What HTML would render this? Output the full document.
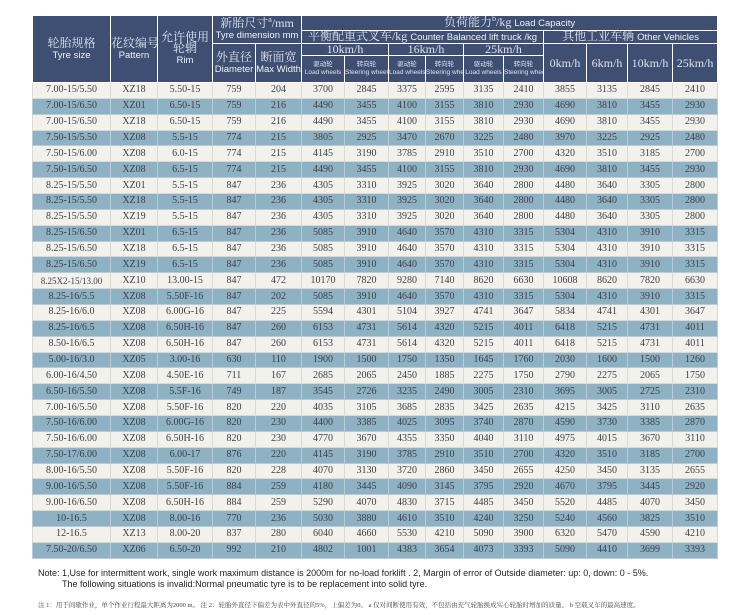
<!DOCTYPE html>
<html><head><meta charset="utf-8"><style>
body{margin:0;width:750px;height:615px;background:#fff;position:relative;overflow:hidden;font-family:"Liberation Serif","Noto Serif CJK SC",serif;}
table{position:absolute;left:32px;top:15px;border-collapse:collapse;table-layout:fixed;width:685px;}
td{padding:0;text-align:center;overflow:hidden;white-space:nowrap;border:1px solid rgba(255,255,255,.55);}
thead td{background:#3e4f73;color:#dfe3ec;font-size:12px;line-height:11px;}
thead .e{font-family:"Liberation Sans",sans-serif;font-size:9.5px;color:#f0f2f6;}
thead .s{font-size:6.5px;font-family:"Liberation Sans","Noto Sans CJK SC",sans-serif;line-height:8px;}
tbody td{height:14.87px;font-size:10px;line-height:10px;color:#3a3f44;}
tbody tr:nth-child(odd) td{background:#f3f1ec;border-color:#ddd9d0;}
tbody tr:nth-child(even) td{background:#8fb1c4;border-color:#b6cdd8;}
.n{position:absolute;left:75px;font-family:"Liberation Sans",sans-serif;font-size:9px;color:#222;}
.c{position:absolute;left:78px;top:600px;font-size:6.5px;color:#444;font-family:"Liberation Serif","Noto Serif CJK SC",serif;}
</style></head><body>
<table>
<colgroup><col style="width:78px"><col style="width:47px"><col style="width:55px"><col style="width:43px"><col style="width:46px"><col style="width:43px"><col style="width:44px"><col style="width:37px"><col style="width:38px"><col style="width:40px"><col style="width:40px"><col style="width:43px"><col style="width:41px"><col style="width:45px"><col style="width:45px"></colgroup>
<thead>
<tr style="height:15px"><td rowspan="4">轮胎规格<br><span class="e">Tyre size</span></td><td rowspan="4">花纹编号<br><span class="e">Pattern</span></td><td rowspan="4">允许使用<br>轮辋<br><span class="e">Rim</span></td><td colspan="2" rowspan="2">新胎尺寸<sup style="font-size:8px;line-height:0">a</sup>/mm<br><span class="e">Tyre dimension mm</span></td><td colspan="10">负荷能力<sup style="font-size:8px;line-height:0">b</sup>/kg <span class="e">Load Capacity</span></td></tr>
<tr style="height:13px"><td colspan="6">平衡配重式叉车/kg <span class="e">Counter Balanced lift truck /kg</span></td><td colspan="4">其他工业车辆 <span class="e">Other Vehicles</span></td></tr>
<tr style="height:12px"><td rowspan="2">外直径<br><span class="e">Diameter</span></td><td rowspan="2">断面宽<br><span class="e">Max Width</span></td><td colspan="2">10km/h</td><td colspan="2">16km/h</td><td colspan="2">25km/h</td><td rowspan="2">0km/h</td><td rowspan="2">6km/h</td><td rowspan="2">10km/h</td><td rowspan="2">25km/h</td></tr>
<tr style="height:27px"><td class="s">驱动轮<br>Load wheels</td><td class="s">转向轮<br>Steering wheels</td><td class="s">驱动轮<br>Load wheels</td><td class="s">转向轮<br>Steering wheels</td><td class="s">驱动轮<br>Load wheels</td><td class="s">转向轮<br>Steering wheels</td></tr>
</thead>
<tbody>
<tr><td>7.00-15/5.50</td><td>XZ18</td><td>5.50-15</td><td>759</td><td>204</td><td>3700</td><td>2845</td><td>3375</td><td>2595</td><td>3135</td><td>2410</td><td>3855</td><td>3135</td><td>2845</td><td>2410</td></tr>
<tr><td>7.00-15/6.50</td><td>XZ01</td><td>6.50-15</td><td>759</td><td>216</td><td>4490</td><td>3455</td><td>4100</td><td>3155</td><td>3810</td><td>2930</td><td>4690</td><td>3810</td><td>3455</td><td>2930</td></tr>
<tr><td>7.00-15/6.50</td><td>XZ18</td><td>6.50-15</td><td>759</td><td>216</td><td>4490</td><td>3455</td><td>4100</td><td>3155</td><td>3810</td><td>2930</td><td>4690</td><td>3810</td><td>3455</td><td>2930</td></tr>
<tr><td>7.50-15/5.50</td><td>XZ08</td><td>5.5-15</td><td>774</td><td>215</td><td>3805</td><td>2925</td><td>3470</td><td>2670</td><td>3225</td><td>2480</td><td>3970</td><td>3225</td><td>2925</td><td>2480</td></tr>
<tr><td>7.50-15/6.00</td><td>XZ08</td><td>6.0-15</td><td>774</td><td>215</td><td>4145</td><td>3190</td><td>3785</td><td>2910</td><td>3510</td><td>2700</td><td>4320</td><td>3510</td><td>3185</td><td>2700</td></tr>
<tr><td>7.50-15/6.50</td><td>XZ08</td><td>6.5-15</td><td>774</td><td>215</td><td>4490</td><td>3455</td><td>4100</td><td>3155</td><td>3810</td><td>2930</td><td>4690</td><td>3810</td><td>3455</td><td>2930</td></tr>
<tr><td>8.25-15/5.50</td><td>XZ01</td><td>5.5-15</td><td>847</td><td>236</td><td>4305</td><td>3310</td><td>3925</td><td>3020</td><td>3640</td><td>2800</td><td>4480</td><td>3640</td><td>3305</td><td>2800</td></tr>
<tr><td>8.25-15/5.50</td><td>XZ18</td><td>5.5-15</td><td>847</td><td>236</td><td>4305</td><td>3310</td><td>3925</td><td>3020</td><td>3640</td><td>2800</td><td>4480</td><td>3640</td><td>3305</td><td>2800</td></tr>
<tr><td>8.25-15/5.50</td><td>XZ19</td><td>5.5-15</td><td>847</td><td>236</td><td>4305</td><td>3310</td><td>3925</td><td>3020</td><td>3640</td><td>2800</td><td>4480</td><td>3640</td><td>3305</td><td>2800</td></tr>
<tr><td>8.25-15/6.50</td><td>XZ01</td><td>6.5-15</td><td>847</td><td>236</td><td>5085</td><td>3910</td><td>4640</td><td>3570</td><td>4310</td><td>3315</td><td>5304</td><td>4310</td><td>3910</td><td>3315</td></tr>
<tr><td>8.25-15/6.50</td><td>XZ18</td><td>6.5-15</td><td>847</td><td>236</td><td>5085</td><td>3910</td><td>4640</td><td>3570</td><td>4310</td><td>3315</td><td>5304</td><td>4310</td><td>3910</td><td>3315</td></tr>
<tr><td>8.25-15/6.50</td><td>XZ19</td><td>6.5-15</td><td>847</td><td>236</td><td>5085</td><td>3910</td><td>4640</td><td>3570</td><td>4310</td><td>3315</td><td>5304</td><td>4310</td><td>3910</td><td>3315</td></tr>
<tr><td style="font-size:9px">8.25X2-15/13.00</td><td>XZ10</td><td>13.00-15</td><td>847</td><td>472</td><td>10170</td><td>7820</td><td>9280</td><td>7140</td><td>8620</td><td>6630</td><td>10608</td><td>8620</td><td>7820</td><td>6630</td></tr>
<tr><td>8.25-16/5.5</td><td>XZ08</td><td>5.50F-16</td><td>847</td><td>202</td><td>5085</td><td>3910</td><td>4640</td><td>3570</td><td>4310</td><td>3315</td><td>5304</td><td>4310</td><td>3910</td><td>3315</td></tr>
<tr><td>8.25-16/6.0</td><td>XZ08</td><td>6.00G-16</td><td>847</td><td>225</td><td>5594</td><td>4301</td><td>5104</td><td>3927</td><td>4741</td><td>3647</td><td>5834</td><td>4741</td><td>4301</td><td>3647</td></tr>
<tr><td>8.25-16/6.5</td><td>XZ08</td><td>6.50H-16</td><td>847</td><td>260</td><td>6153</td><td>4731</td><td>5614</td><td>4320</td><td>5215</td><td>4011</td><td>6418</td><td>5215</td><td>4731</td><td>4011</td></tr>
<tr><td>8.50-16/6.5</td><td>XZ08</td><td>6.50H-16</td><td>847</td><td>260</td><td>6153</td><td>4731</td><td>5614</td><td>4320</td><td>5215</td><td>4011</td><td>6418</td><td>5215</td><td>4731</td><td>4011</td></tr>
<tr><td>5.00-16/3.0</td><td>XZ05</td><td>3.00-16</td><td>630</td><td>110</td><td>1900</td><td>1500</td><td>1750</td><td>1350</td><td>1645</td><td>1760</td><td>2030</td><td>1600</td><td>1500</td><td>1260</td></tr>
<tr><td>6.00-16/4.50</td><td>XZ08</td><td>4.50E-16</td><td>711</td><td>167</td><td>2685</td><td>2065</td><td>2450</td><td>1885</td><td>2275</td><td>1750</td><td>2790</td><td>2275</td><td>2065</td><td>1750</td></tr>
<tr><td>6.50-16/5.50</td><td>XZ08</td><td>5.5F-16</td><td>749</td><td>187</td><td>3545</td><td>2726</td><td>3235</td><td>2490</td><td>3005</td><td>2310</td><td>3695</td><td>3005</td><td>2725</td><td>2310</td></tr>
<tr><td>7.00-16/5.50</td><td>XZ08</td><td>5.50F-16</td><td>820</td><td>220</td><td>4035</td><td>3105</td><td>3685</td><td>2835</td><td>3425</td><td>2635</td><td>4215</td><td>3425</td><td>3110</td><td>2635</td></tr>
<tr><td>7.50-16/6.00</td><td>XZ08</td><td>6.00G-16</td><td>820</td><td>230</td><td>4400</td><td>3385</td><td>4025</td><td>3095</td><td>3740</td><td>2870</td><td>4590</td><td>3730</td><td>3385</td><td>2870</td></tr>
<tr><td>7.50-16/6.00</td><td>XZ08</td><td>6.50H-16</td><td>820</td><td>230</td><td>4770</td><td>3670</td><td>4355</td><td>3350</td><td>4040</td><td>3110</td><td>4975</td><td>4015</td><td>3670</td><td>3110</td></tr>
<tr><td>7.50-17/6.00</td><td>XZ08</td><td>6.00-17</td><td>876</td><td>220</td><td>4145</td><td>3190</td><td>3785</td><td>2910</td><td>3510</td><td>2700</td><td>4320</td><td>3510</td><td>3185</td><td>2700</td></tr>
<tr><td>8.00-16/5.50</td><td>XZ08</td><td>5.50F-16</td><td>820</td><td>228</td><td>4070</td><td>3130</td><td>3720</td><td>2860</td><td>3450</td><td>2655</td><td>4250</td><td>3450</td><td>3135</td><td>2655</td></tr>
<tr><td>9.00-16/5.50</td><td>XZ08</td><td>5.50F-16</td><td>884</td><td>259</td><td>4180</td><td>3445</td><td>4090</td><td>3145</td><td>3795</td><td>2920</td><td>4670</td><td>3795</td><td>3445</td><td>2920</td></tr>
<tr><td>9.00-16/6.50</td><td>XZ08</td><td>6.50H-16</td><td>884</td><td>259</td><td>5290</td><td>4070</td><td>4830</td><td>3715</td><td>4485</td><td>3450</td><td>5520</td><td>4485</td><td>4070</td><td>3450</td></tr>
<tr><td>10-16.5</td><td>XZ08</td><td>8.00-16</td><td>770</td><td>236</td><td>5030</td><td>3880</td><td>4610</td><td>3510</td><td>4240</td><td>3250</td><td>5240</td><td>4560</td><td>3825</td><td>3510</td></tr>
<tr><td>12-16.5</td><td>XZ13</td><td>8.00-20</td><td>837</td><td>280</td><td>6040</td><td>4660</td><td>5530</td><td>4210</td><td>5090</td><td>3900</td><td>6320</td><td>5470</td><td>4590</td><td>4210</td></tr>
<tr><td>7.50-20/6.50</td><td>XZ06</td><td>6.50-20</td><td>992</td><td>210</td><td>4802</td><td>1001</td><td>4383</td><td>3654</td><td>4073</td><td>3393</td><td>5090</td><td>4410</td><td>3699</td><td>3393</td></tr>
</tbody></table>
<div class="n" style="top:568px;left:38px">Note: 1,Use for intermittent work, single work maximum distance is 2000m for no-load forklift . 2, Margin of error of Outside diameter: up: 0, down: 0 - 5%.</div>
<div class="n" style="top:579px;left:62px">The following situations is invalid:Normal pneumatic tyre is to be replacement into solid tyre.</div>
<div class="c" style="left:38px">注 1：用于间歇作业，单个作业行程最大距离为2000 m。 注 2：轮胎外直径下偏差为表中外直径的5%，上偏差为0。 a 仅对间断使用有效，不包括由充气轮胎换成实心轮胎时增加的质量。 b 空载叉车的最高速度。</div>
</body></html>
